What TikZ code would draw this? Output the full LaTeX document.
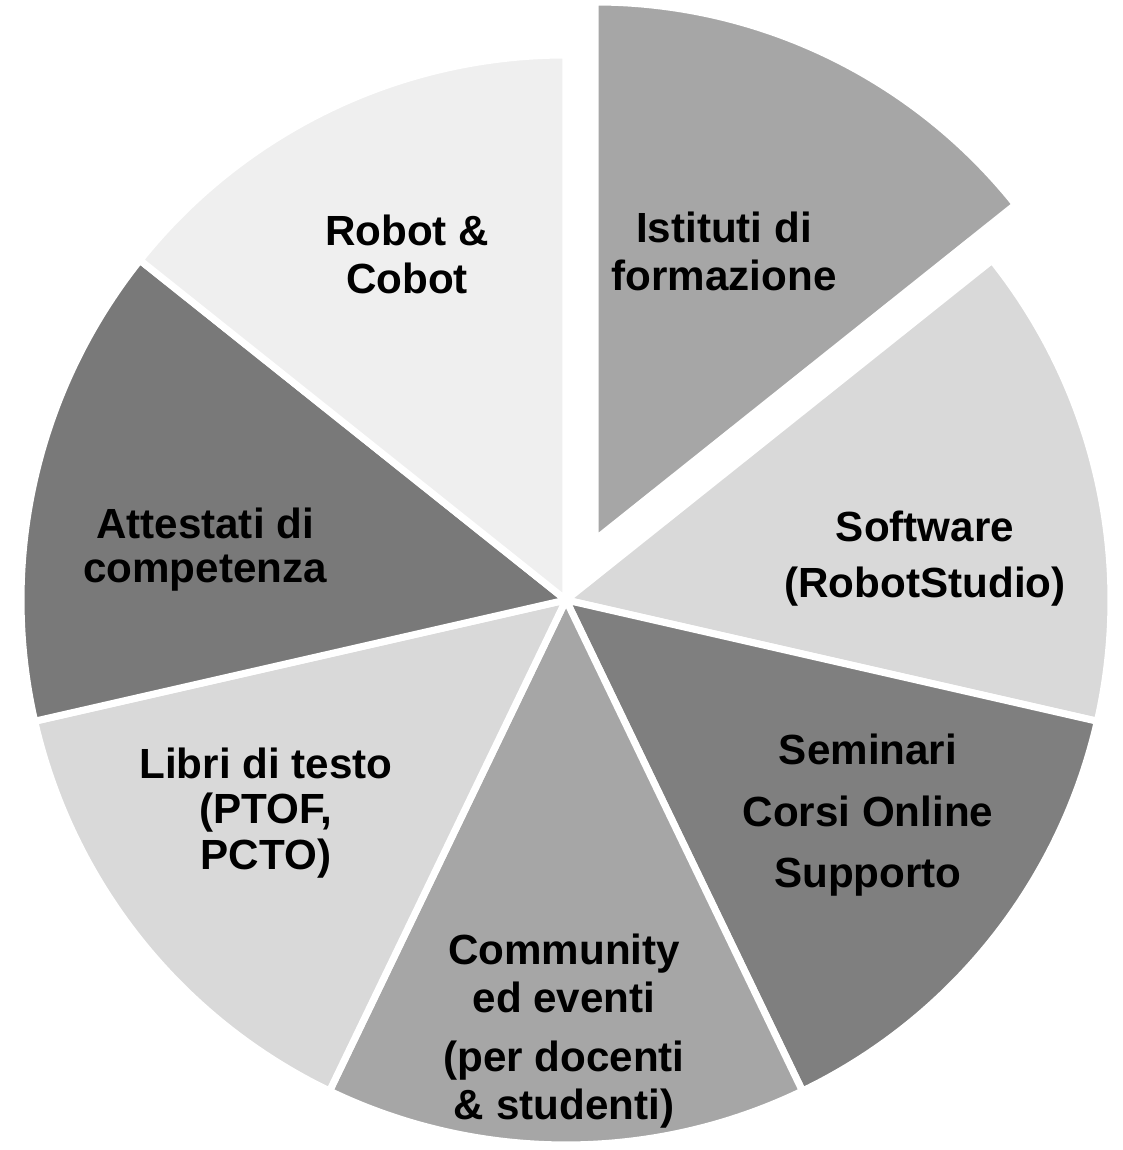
\documentclass[tikz,border=0pt]{standalone}
\usepackage{fontspec}
\setmainfont{Liberation Sans}
\definecolor{palegray}{HTML}{EFEFEF}
\definecolor{lightgray}{HTML}{D9D9D9}
\definecolor{midgray}{HTML}{A6A6A6}
\definecolor{darkgray}{HTML}{7F7F7F}
\definecolor{deepgray}{HTML}{797979}

\begin{document}
\begin{tikzpicture}[
        slice/.style={draw=white, line width=2pt, line join=round},
        slicetext/.style={font=\fontsize{12}{13.6}\selectfont\bfseries, align=center, anchor=north, inner sep=0pt}
    ]
        \useasboundingbox (-5.66,-5.50) rectangle (5.56,6.00);
        \coordinate (O) at (0,0);
        \coordinate (Out) at (0.29,0.60);
        % pulled-out slice
        \filldraw[slice, fill=midgray] (Out) -- ++(90:5.38) arc[start angle=90, end angle=38.571, radius=5.38] -- cycle;
        % remaining slices, clockwise
        \filldraw[slice, fill=lightgray] (O) -- (38.571:5.45) arc[start angle=38.571, end angle=-12.857, radius=5.45] -- cycle;
        \filldraw[slice, fill=darkgray] (O) -- (-12.857:5.45) arc[start angle=-12.857, end angle=-64.286, radius=5.45] -- cycle;
        \filldraw[slice, fill=midgray] (O) -- (-64.286:5.45) arc[start angle=-64.286, end angle=-115.714, radius=5.45] -- cycle;
        \filldraw[slice, fill=lightgray] (O) -- (-115.714:5.45) arc[start angle=-115.714, end angle=-167.143, radius=5.45] -- cycle;
        \filldraw[slice, fill=deepgray] (O) -- (192.857:5.45) arc[start angle=192.857, end angle=141.429, radius=5.45] -- cycle;
        \filldraw[slice, fill=palegray] (O) -- (141.429:5.45) arc[start angle=141.429, end angle=90, radius=5.45] -- cycle;
        % texts
        \node[slicetext] (istituti) at (1.58,3.89) {Istituti di\\formazione};
        \node[slicetext] (software) at (3.59,0.90) {Software\\[2.3pt](RobotStudio)};
        \node[slicetext] (seminari) at (3.02,-1.33) {Seminari\\[4pt]Corsi Online\\[4pt]Supporto};
        \node[slicetext] (community) at (-0.02,-3.33) {Community\\ed eventi\\[3.4pt](per docenti\\\& studenti)};
        \node[slicetext] (libri) at (-3.00,-1.47) {Libri di testo\\[-0.6pt](PTOF,\\[-0.6pt]PCTO)};
        \node[slicetext] (attestati) at (-3.61,0.93) {Attestati di\\[-0.9pt]competenza};
        \node[slicetext] (robot) at (-1.59,3.86) {Robot \&\\Cobot};
    \end{tikzpicture}
\end{document}
